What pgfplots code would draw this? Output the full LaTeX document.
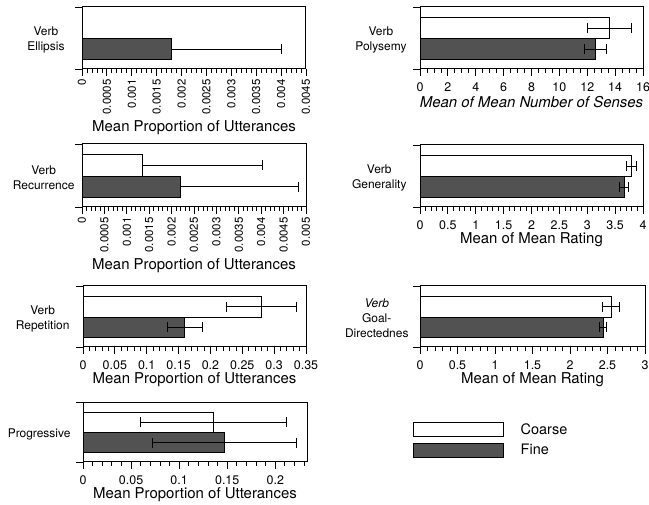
\documentclass[border=0pt]{standalone}
\usepackage{fontspec}
\setmainfont{TeX Gyre Heros}
\usepackage{pgfplots}
\pgfplotsset{compat=1.18}
\definecolor{finegray}{gray}{0.32}
\tikzset{leftlab/.style={anchor=east, align=center, font=\fontsize{12}{15}\selectfont, yshift=-2bp}}
\pgfplotsset{
  panel/.style={
    scale only axis, clip=false,
    ymin=-0.95, ymax=2.0,
    ytick={-0.95,2}, yticklabels={},
    xmin=0,
    scaled x ticks=false,
    tick align=outside,
    xtick pos=bottom, ytick pos=left,
    major tick length=7bp, minor tick length=4bp,
    axis line style={line width=1bp},
    every tick/.style={black, line width=0.8bp},
    minor x tick num=4,
    tick label style={font=\fontsize{12.5}{14}\selectfont},
    xlabel style={font=\fontsize{15}{17}\selectfont, at={(axis description cs:0.5,0)}, anchor=center, yshift=-33bp},
    /pgf/number format/assume math mode=true,
  },
  flatticks/.style={xticklabel style={yshift=-3bp}},
  rotticks/.style={
    xticklabel style={rotate=90, anchor=east, font=\fontsize{11.5}{13}\selectfont},
    xlabel style={yshift=-26bp},
  },
  coarse/.style={xbar, bar shift=0pt, bar width=1, fill=white, draw=black, line width=1bp,
    /pgfplots/error bars/x dir=both, /pgfplots/error bars/x explicit,
    /pgfplots/error bars/error bar style={line width=0.8bp, black},
    /pgfplots/error bars/error mark options={black, mark size=5bp, line width=0.8bp, rotate=90}},
  fine/.style={xbar, bar shift=0pt, bar width=1, fill=finegray, draw=black, line width=1bp,
    /pgfplots/error bars/x dir=both, /pgfplots/error bars/x explicit,
    /pgfplots/error bars/error bar style={line width=0.8bp, black},
    /pgfplots/error bars/error mark options={black, mark size=5bp, line width=0.8bp, rotate=90}},
  coarseplus/.style={coarse, /pgfplots/error bars/x dir=plus},
  fineplus/.style={fine, /pgfplots/error bars/x dir=plus},
}
\begin{document}
\begin{tikzpicture}[x=1bp,y=1bp]
% Panel 1: Verb Ellipsis
\begin{axis}[panel, rotticks, at={(82bp,436bp)}, anchor=south west, width=224bp, height=62bp,
  xmax=0.0045, xtick={0,0.0005,0.001,0.0015,0.002,0.0025,0.003,0.0035,0.004,0.0045},
  xticklabels={0,0.0005,0.001,0.0015,0.002,0.0025,0.003,0.0035,0.004,0.0045},
  xlabel={Mean Proportion of Utterances}]
\addplot[fineplus] coordinates {(0.0018,0) +- (0.0022,0)};
\node[leftlab, xshift=-14bp] at (axis description cs:0,0.5) {Verb\\Ellipsis};
\end{axis}
% Panel 2: Verb Polysemy
\begin{axis}[panel, flatticks, at={(420bp,436bp)}, anchor=south west, width=223bp, height=62bp,
  xmax=16, xtick={0,2,4,6,8,10,12,14,16}, xticklabels={0,2,4,6,8,10,12,14,16},
  minor x tick num=3,
  xlabel={\itshape Mean of Mean Number of Senses}]
\addplot[coarse] coordinates {(13.6,1) +- (1.6,0)};
\addplot[fine] coordinates {(12.6,0) +- (0.8,0)};
\node[leftlab, xshift=-10bp] at (axis description cs:0,0.5) {Verb\\Polysemy};
\end{axis}
% Panel 3: Verb Recurrence
\begin{axis}[panel, rotticks, at={(82bp,298bp)}, anchor=south west, width=224bp, height=63bp,
  xmax=0.005, xtick={0,0.0005,0.001,0.0015,0.002,0.0025,0.003,0.0035,0.004,0.0045,0.005},
  xticklabels={0,0.0005,0.001,0.0015,0.002,0.0025,0.003,0.0035,0.004,0.0045,0.005},
  xlabel={Mean Proportion of Utterances}]
\addplot[coarseplus] coordinates {(0.00136,1) +- (0.00266,0)};
\addplot[fineplus] coordinates {(0.00219,0) +- (0.00263,0)};
\node[leftlab, xshift=-4bp] at (axis description cs:0,0.5) {Verb\\Recurrence};
\end{axis}
% Panel 4: Verb Generality
\begin{axis}[panel, flatticks, at={(420bp,298bp)}, anchor=south west, width=223bp, height=62bp,
  xmax=4, xtick={0,0.5,1,1.5,2,2.5,3,3.5,4}, xticklabels={0,0.5,1,1.5,2,2.5,3,3.5,4},
  xlabel={Mean of Mean Rating}]
\addplot[coarse] coordinates {(3.80,1) +- (0.09,0)};
\addplot[fine] coordinates {(3.66,0) +- (0.08,0)};
\node[leftlab, xshift=-10bp] at (axis description cs:0,0.5) {Verb\\Generality};
\end{axis}
% Panel 5: Verb Repetition
\begin{axis}[panel, flatticks, at={(83bp,158bp)}, anchor=south west, width=223bp, height=61bp,
  xmax=0.35, xtick={0,0.05,0.1,0.15,0.2,0.25,0.3,0.35}, xticklabels={0,0.05,0.1,0.15,0.2,0.25,0.3,0.35},
  xlabel={Mean Proportion of Utterances}]
\addplot[coarse] coordinates {(0.28,1) +- (0.055,0)};
\addplot[fine] coordinates {(0.16,0) +- (0.027,0)};
\node[leftlab, xshift=-10bp] at (axis description cs:0,0.5) {Verb\\Repetition};
\end{axis}
% Panel 6: Verb Goal-Directedness
\begin{axis}[panel, flatticks, at={(420bp,158bp)}, anchor=south west, width=225bp, height=61bp,
  xmax=3, xtick={0,0.5,1,1.5,2,2.5,3}, xticklabels={0,0.5,1,1.5,2,2.5,3},
  xlabel={Mean of Mean Rating},
  legend image code/.code={\draw[#1, line width=1bp] (0bp,-7bp) rectangle (90bp,7bp);},
  legend style={at={(axis description cs:-0.031,-1.23)}, anchor=north west, draw=none, fill=none,
    font=\fontsize{14.5}{16}\selectfont, row sep=5bp, column sep=15bp, inner sep=0pt,
    nodes={inner sep=1.5bp}},
  legend cell align=left]
\addplot[coarse] coordinates {(2.55,1) +- (0.115,0)};
\addlegendentry{Coarse}
\addplot[fine] coordinates {(2.44,0) +- (0.05,0)};
\addlegendentry{Fine}
\node[leftlab, xshift=-8bp] at (axis description cs:0,0.5) {\textit{Verb}\\Goal-\\Directednes};
\end{axis}
% Panel 7: Progressive
\begin{axis}[panel, flatticks, at={(83bp,43bp)}, anchor=south west, width=224bp, height=60bp,
  xmax=0.233, xtick={0,0.05,0.1,0.15,0.2}, xticklabels={0,0.05,0.1,0.15,0.2},
  minor xtick={0.01,0.02,0.03,0.04,0.06,0.07,0.08,0.09,0.11,0.12,0.13,0.14,0.16,0.17,0.18,0.19,0.21,0.22,0.23},
  xlabel={Mean Proportion of Utterances}]
\addplot[coarse] coordinates {(0.136,1) +- (0.076,0)};
\addplot[fine] coordinates {(0.147,0) +- (0.075,0)};
\node[leftlab, xshift=-9bp] at (axis description cs:0,0.5) {Progressive};
\end{axis}
\pgfresetboundingbox
\useasboundingbox (0,0) rectangle (649bp,505bp);
\end{tikzpicture}
\end{document}
